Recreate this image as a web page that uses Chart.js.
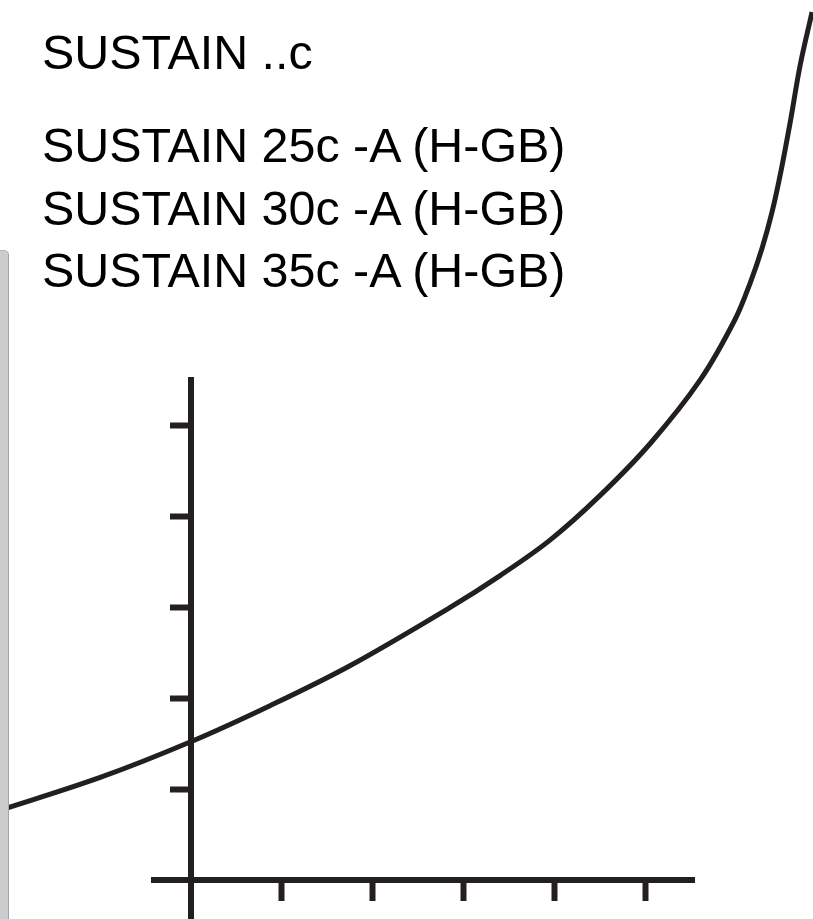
<!DOCTYPE html>
<html>
<head>
<meta charset="utf-8">
<script src="https://cdn.jsdelivr.net/npm/chart.js@4"></script>
<style>
  html, body { margin: 0; padding: 0; background: #fff; }
  #wrap { position: relative; width: 813px; height: 919px; overflow: hidden; }
  #c { position: absolute; left: 0; top: 0; }
  .lbl { position: absolute; left: 42px; font-family: "Liberation Sans", Arial, sans-serif; font-size: 48.4px; line-height: 48px; color: #000; white-space: nowrap; }
  #panel { position: absolute; left: 0; top: 250px; width: 8px; height: 700px; background: #cbccce; border-right: 1px solid #a2a3a5; border-top: 1px solid #b4b5b7; border-top-right-radius: 5px; }
</style>
</head>
<body>
<div id="wrap">
  <canvas id="c" width="813" height="919"></canvas>
  <div id="panel"></div>
</div>
<script>
// ---- data ----
const legendLabels = ['SUSTAIN ..c', 'SUSTAIN 25c -A (H-GB)', 'SUSTAIN 30c -A (H-GB)', 'SUSTAIN 35c -A (H-GB)'];
const curveX = [-2.16, -1.00, -0.01, 0.87, 1.75, 2.85, 3.40, 3.95, 4.50, 5.06, 5.61, 5.99, 6.16, 6.29, 6.40, 6.50, 6.60, 6.71, 6.84];
const curveY = [0.75, 1.13, 1.52, 1.92, 2.36, 3.00, 3.35, 3.74, 4.23, 4.81, 5.51, 6.17, 6.58, 6.96, 7.36, 7.82, 8.35, 8.98, 9.56];
const xTicks = [1, 2, 3, 4, 5];
const yTicks = [1, 2, 3, 4, 5];
const xRange = [-0.4075, 5.5396];
const yRange = [-0.4295, 5.5066];

// ---- labels (real text) ----
const labelTops = [28.4, 121.4, 184, 246.4];
const wrap = document.getElementById('wrap');
legendLabels.forEach((t, i) => {
  const d = document.createElement('div');
  d.className = 'lbl';
  d.style.top = labelTops[i] + 'px';
  d.textContent = t;
  wrap.appendChild(d);
});

const ink = '#231f20';
const axisCommon = {
  type: 'linear',
  bounds: 'data',
  ticks: { display: false },
  grid: { drawOnChartArea: false, drawTicks: true, tickLength: 18, tickWidth: 6, tickColor: ink, lineWidth: 1, color: 'rgba(0,0,0,0)' },
  border: { display: true, width: 6, color: ink }
};

new Chart(document.getElementById('c'), {
  type: 'line',
  data: {
    datasets: [{
      data: curveX.map((x, i) => ({ x: x, y: curveY[i] })),
      borderColor: ink,
      borderWidth: 5,
      pointRadius: 0,
      fill: false,
      tension: 0.35,
      clip: false
    }]
  },
  options: {
    responsive: false,
    animation: false,
    events: [],
    layout: { padding: { left: 154, right: 119, top: 380, bottom: 0 } },
    plugins: { legend: { display: false }, tooltip: { enabled: false }, title: { display: false } },
    scales: {
      x: Object.assign({}, axisCommon, {
        position: { y: 0 },
        afterDataLimits: s => { s.min = xRange[0]; s.max = xRange[1]; },
        afterBuildTicks: s => { s.ticks = xTicks.map(v => ({ value: v })); }
      }),
      y: Object.assign({}, axisCommon, {
        position: { x: 0 },
        afterDataLimits: s => { s.min = yRange[0]; s.max = yRange[1]; },
        afterBuildTicks: s => { s.ticks = yTicks.map(v => ({ value: v })); }
      })
    }
  }
});
</script>
</body>
</html>
